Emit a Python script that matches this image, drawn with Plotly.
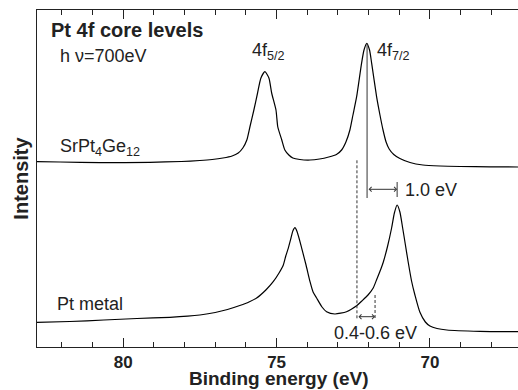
import plotly.graph_objects as go

# Binding energy (eV) and intensity (arb. units)
be_sr = [82.81, 82.06, 80.76, 79.13, 78.10, 77.50, 77.10, 76.75, 76.45, 76.25, 76.10, 75.97,
         75.87, 75.74, 75.62, 75.51, 75.38, 75.25, 75.16, 75.02, 74.96, 74.83, 74.73, 74.60,
         74.47, 74.24, 73.91, 73.60, 73.30, 73.05, 72.88, 72.74, 72.61, 72.51, 72.39, 72.23,
         72.15, 72.06, 71.97, 71.90, 71.74, 71.63, 71.53, 71.43, 71.33, 71.18, 70.98, 70.65,
         70.23, 69.67, 69.02, 68.04, 67.13]
int_sr = [185.3, 185.0, 184.3, 184.7, 185.5, 186.5, 187.5, 189.0, 191.0, 194.0, 199.0, 207.0,
          220.0, 237.0, 254.0, 269.0, 275.3, 269.0, 254.0, 237.0, 220.0, 207.0, 197.0, 192.0,
          189.0, 187.5, 187.0, 188.0, 190.0, 192.5, 197.0, 205.0, 217.0, 232.0, 250.3, 283.7,
          297.0, 303.7, 297.0, 283.7, 250.3, 232.0, 217.0, 205.0, 198.0, 192.5, 188.5, 184.5,
          182.0, 181.0, 180.5, 180.2, 180.0]

be_pt = [82.81, 81.74, 80.63, 79.55, 78.48, 77.90, 77.50, 77.00, 76.60, 76.20, 75.90, 75.65,
         75.35, 75.11, 74.92, 74.78, 74.70, 74.62, 74.53, 74.47, 74.40, 74.34, 74.26, 74.18,
         74.04, 73.91, 73.81, 73.69, 73.52, 73.37, 73.10, 72.72, 72.38, 72.22, 72.02, 71.85,
         71.73, 71.60, 71.52, 71.38, 71.25, 71.16, 71.07, 70.98, 70.89, 70.80, 70.71, 70.60,
         70.49, 70.33, 70.15, 70.00, 69.77, 69.45, 68.37, 67.13]
int_pt = [24.7, 25.5, 27.0, 28.5, 29.7, 30.8, 32.0, 34.5, 37.5, 41.5, 45.0, 49.0,
          57.0, 65.3, 74.0, 82.0, 91.0, 98.7, 109.0, 116.0, 119.3, 116.0, 108.0, 98.7,
          82.0, 65.3, 55.0, 48.7, 40.0, 35.3, 33.0, 35.3, 41.5, 46.0, 52.0, 59.0,
          68.0, 78.0, 85.0, 101.0, 119.0, 134.0, 142.0, 135.0, 119.0, 102.0, 85.0, 66.0,
          52.0, 35.0, 25.0, 21.0, 18.5, 17.0, 15.7, 15.3]

tick_vals = [80, 75, 70]
x_range = [82.81, 67.13]
y_range = [0, 337]

# marker positions (eV) and heights
sr_peak_be, pt_peak_be = 72.05, 71.07
shift_y = 157.7
dash1_be, dash2_be = 72.38, 71.79
shift2_y = 30.3

FONT = "Liberation Sans, Arial, sans-serif"

fig = go.Figure()
for xs, ys in [(be_sr, int_sr), (be_pt, int_pt)]:
    fig.add_trace(go.Scatter(x=xs, y=ys, mode="lines",
                             line=dict(color="black", width=1.2, shape="spline", smoothing=0.6),
                             showlegend=False, hoverinfo="skip"))

shapes = [
    dict(type="line", x0=sr_peak_be, x1=sr_peak_be, y0=149, y1=303.7,
         line=dict(color="#333", width=1)),
    dict(type="line", x0=pt_peak_be, x1=pt_peak_be, y0=150, y1=165,
         line=dict(color="#333", width=1)),
    dict(type="line", x0=dash1_be, x1=dash1_be, y0=28.7, y1=187,
         line=dict(color="#333", width=1, dash="3px,2px")),
    dict(type="line", x0=dash2_be, x1=dash2_be, y0=29, y1=52,
         line=dict(color="#333", width=1, dash="3px,2px")),
]
fig.update_layout(shapes=shapes)

def arrow(x0, x1, y):
    fig.add_annotation(x=x1, y=y, ax=x0, ay=y, xref="x", yref="y", axref="x", ayref="y",
                       text="", showarrow=True, arrowhead=4, arrowside="end+start",
                       arrowsize=0.9, arrowwidth=1, arrowcolor="#333",
                       startstandoff=0, standoff=0)

arrow(sr_peak_be, pt_peak_be, shift_y)
arrow(dash1_be, dash2_be, shift2_y)

def label(x, y, text, size=18, bold=False):
    fig.add_annotation(x=x, y=y, xref="x", yref="y", text=text, showarrow=False,
                       xanchor="left", yanchor="middle",
                       font=dict(family=FONT, size=size, color="#222",
                                 weight="bold" if bold else "normal"))

label(82.42, 317, "Pt 4f core levels", size=20, bold=True)
label(82.13, 291, "h ν=700eV")
label(75.87, 296, "4f<sub>5/2</sub>")
label(71.79, 296, "4f<sub>7/2</sub>")
label(82.13, 200, "SrPt<sub>4</sub>Ge<sub>12</sub>")
label(70.88, 157, "1.0 eV")
label(82.23, 43, "Pt metal")
label(73.20, 14, "0.4-0.6 eV")

# x-axis title as annotation below tick labels
fig.add_annotation(x=0.503, y=-0.1276, xref="paper", yref="paper",
                   text="Binding energy (eV)", showarrow=False,
                   xanchor="center", yanchor="bottom", borderpad=0,
                   font=dict(family=FONT, size=19, weight="bold", color="#222"))

fig.update_layout(
    width=518, height=390,
    margin=dict(l=37, r=0, t=10, b=43),
    plot_bgcolor="white", paper_bgcolor="white",
    font=dict(family=FONT, color="#222"),
    xaxis=dict(range=x_range, tickvals=tick_vals, ticks="inside", ticklen=9, tickwidth=1,
               tickcolor="#222", showline=True, linecolor="#222", linewidth=1, mirror="ticks",
               showgrid=False, zeroline=False,
               tickfont=dict(family=FONT, size=17, weight="bold", color="#222"),
               minor=dict(dtick=1, ticks="inside", ticklen=5, tickcolor="#222", showgrid=False)),
    yaxis=dict(range=y_range, showticklabels=False, ticks="", showline=True, linecolor="#222",
               linewidth=1, showgrid=False, zeroline=False,
               title=dict(text="Intensity", standoff=2,
                          font=dict(family=FONT, size=20, weight="bold", color="#222"))),
)

fig.write_html("out.html")
